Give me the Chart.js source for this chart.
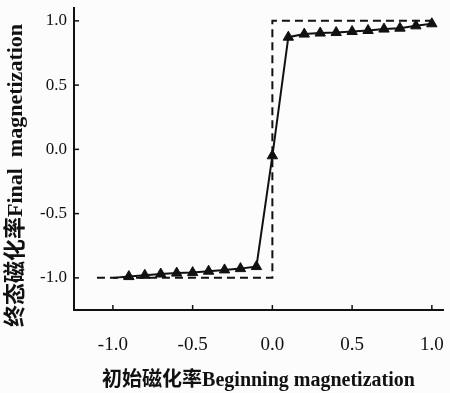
<!DOCTYPE html>
<html>
<head>
<meta charset="utf-8">
<script src="https://cdn.jsdelivr.net/npm/chart.js@4.4.1/dist/chart.umd.min.js"></script>
<style>
  html, body { margin: 0; background: #fcfcfc; }
  #wrap { width: 450px; height: 393px; }
</style>
</head>
<body>
<div id="wrap"><canvas id="chart"></canvas></div>
<script>
// simulated curve (triangles)
const beginX = [-1.0, -0.9, -0.8, -0.7, -0.6, -0.5, -0.4, -0.3, -0.2, -0.1, 0.0,
                0.1, 0.2, 0.3, 0.4, 0.5, 0.6, 0.7, 0.8, 0.9, 1.0];
const finalY = [-1.0, -0.99, -0.98, -0.97, -0.963, -0.959, -0.948, -0.938, -0.928, -0.912, -0.05,
                0.873, 0.897, 0.905, 0.909, 0.917, 0.925, 0.936, 0.943, 0.961, 0.977];

// ideal step (dashed)
const idealX = [-1.1, 0.0, 0.0, 1.03];
const idealY = [-1.0, -1.0, 1.0, 1.0];

const tickValues = [-1.0, -0.5, 0.0, 0.5, 1.0];

const serif = "'Liberation Serif', 'Noto Sans CJK SC', serif";

// small inward tick marks on both axes
const innerTicks = {
    id: 'innerTicks',
    afterDraw(chart) {
        const ctx = chart.ctx;
        const xs = chart.scales.x, ys = chart.scales.y;
        ctx.save();
        ctx.strokeStyle = '#111';
        ctx.lineWidth = 1.5;
        tickValues.forEach(v => {
            const px = xs.getPixelForValue(v);
            ctx.beginPath();
            ctx.moveTo(px, ys.bottom);
            ctx.lineTo(px, ys.bottom - 5);
            ctx.stroke();
            const py = ys.getPixelForValue(v);
            ctx.beginPath();
            ctx.moveTo(xs.left, py);
            ctx.lineTo(xs.left + 5, py);
            ctx.stroke();
        });
        ctx.restore();
    }
};

new Chart(document.getElementById('chart'), {
    type: 'scatter',
    data: {
        datasets: [{
            label: 'ideal',
            data: idealX.map((x, i) => ({ x: x, y: idealY[i] })),
            showLine: true,
            borderColor: '#111',
            borderWidth: 2,
            borderDash: [8, 5],
            pointRadius: 0,
            fill: false
        }, {
            label: 'final',
            data: beginX.map((x, i) => ({ x: x, y: finalY[i] })),
            showLine: true,
            borderColor: '#111',
            backgroundColor: '#111',
            borderWidth: 2,
            pointStyle: 'triangle',
            pointRadius: ctx => ctx.dataIndex === 0 ? 0 : 6,
            pointBorderWidth: 1,
            fill: false
        }]
    },
    plugins: [innerTicks],
    options: {
        responsive: true,
        maintainAspectRatio: false,
        animation: false,
        clip: false,
        layout: { padding: { top: 8, right: 0, left: 0, bottom: 0 } },
        plugins: { legend: { display: false }, tooltip: { enabled: false } },
        scales: {
            x: {
                type: 'linear',
                min: -1.244,
                max: 1.07,
                afterBuildTicks: s => { s.ticks = tickValues.map(v => ({ value: v })); },
                afterFit: s => { s.height = 83; s.paddingLeft = 0; s.paddingRight = 0; },
                grid: { drawOnChartArea: false, drawTicks: false },
                border: { display: true, color: '#111', width: 2 },
                ticks: {
                    color: '#111',
                    font: { family: serif, size: 19 },
                    padding: 24,
                    callback: v => v.toFixed(1)
                },
                title: {
                    display: true,
                    text: '初始磁化率Beginning magnetization',
                    color: '#111',
                    font: { family: serif, size: 20, weight: 'bold' },
                    padding: { top: 0, bottom: 0 }
                }
            },
            y: {
                type: 'linear',
                min: -1.25,
                max: 1.1,
                afterBuildTicks: s => { s.ticks = tickValues.map(v => ({ value: v })); },
                afterFit: s => { s.width = 74; s.paddingTop = 0; s.paddingBottom = 0; },
                grid: { drawOnChartArea: false, drawTicks: false },
                border: { display: true, color: '#111', width: 2 },
                ticks: {
                    color: '#111',
                    font: { family: serif, size: 17 },
                    padding: 7,
                    callback: v => v.toFixed(1)
                },
                title: {
                    display: true,
                    text: '终态磁化率Final  magnetization\u00a0\u00a0\u00a0\u00a0\u00a0\u00a0',
                    color: '#111',
                    font: { family: serif, size: 22, weight: 'bold' },
                    padding: { top: 3, bottom: 0 }
                }
            }
        }
    }
});
</script>
</body>
</html>
